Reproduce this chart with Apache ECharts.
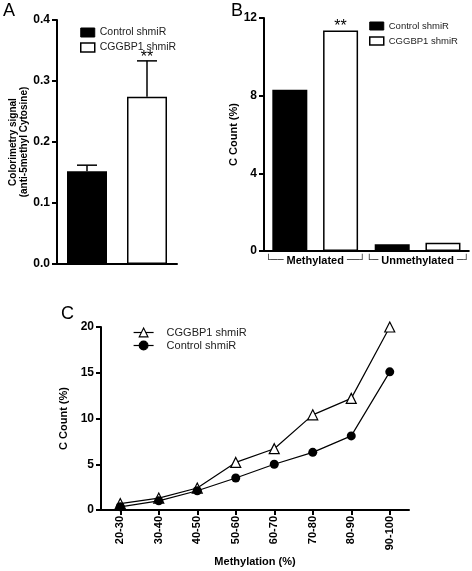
<!DOCTYPE html>
<html><head><meta charset="utf-8">
<script src="https://cdn.jsdelivr.net/npm/echarts@6/dist/echarts.min.js"></script>
<style>html,body{margin:0;padding:0;background:#fff}#c{width:472px;height:571px}</style>
</head><body><div id="c"></div>
<script>
// ---- Panel A ----
const aCategories = ['Control shmiR', 'CGGBP1 shmiR'];
const aMeans = [0.152, 0.274];
const aErrors = [0.010, 0.059];
const aSignif = ['', '**'];
// ---- Panel B ----
const bCategories = ['Methylated', 'Unmethylated'];
const bControl = [8.3, 0.35];
const bCGGBP1 = [11.35, 0.42];
const bSignifCGGBP1 = ['**', ''];
// ---- Panel C ----
const cCategories = ['20-30', '30-40', '40-50', '50-60', '60-70', '70-80', '80-90', '90-100'];
const cCGGBP1 = [0.7, 1.3, 2.4, 5.2, 6.7, 10.4, 12.2, 20.0];
const cControl = [0.35, 1.0, 2.1, 3.5, 5.0, 6.3, 8.1, 15.1];

const FONT = "'Liberation Sans', Arial, sans-serif";
const INK = '#000';
const lbl = (size, weight) => ({ fontFamily: FONT, fontSize: size, fontWeight: weight || 'bold', color: INK });
const axisLine = { show: true, lineStyle: { color: INK, width: 2 } };
const yTick = { show: true, length: 5, lineStyle: { color: INK, width: 2 } };
const letter = { fontFamily: FONT, fontSize: 18, fontWeight: 'normal', color: INK };

const chart = echarts.init(document.getElementById('c'), null, { renderer: 'canvas' });

const option = {
  backgroundColor: '#fff',
  animation: false,
  title: [
    { text: 'A', left: 3, top: 2, padding: 0, textStyle: letter },
    { text: 'B', left: 231, top: 2, padding: 0, textStyle: letter },
    { text: 'C', left: 61, top: 305, padding: 0, textStyle: letter }
  ],
  legend: [
    {
      orient: 'vertical', left: 80, top: 27, padding: 0, itemWidth: 14, itemHeight: 9, itemGap: 4,
      textStyle: { fontFamily: FONT, fontSize: 10.5, color: '#222' },
      selectedMode: false,
      data: [
        { name: 'Control shmiR', icon: 'rect', itemStyle: { color: '#000', borderColor: '#000', borderWidth: 1 } },
        { name: 'CGGBP1 shmiR', icon: 'rect', itemStyle: { color: '#fff', borderColor: '#000', borderWidth: 1.5 } }
      ]
    },
    {
      orient: 'vertical', left: 369, top: 21, padding: 0, itemWidth: 14, itemHeight: 8, itemGap: 5,
      textStyle: { fontFamily: FONT, fontSize: 9.5, color: '#222' },
      selectedMode: false,
      data: [
        { name: 'Control shmiR', icon: 'rect', itemStyle: { color: '#000', borderColor: '#000', borderWidth: 1 } },
        { name: 'CGGBP1 shmiR', icon: 'rect', itemStyle: { color: '#fff', borderColor: '#000', borderWidth: 1.5 } }
      ]
    },
    {
      orient: 'vertical', left: 133, top: 327, padding: 0, itemWidth: 20, itemHeight: 11, itemGap: 2,
      textStyle: { fontFamily: FONT, fontSize: 11, color: '#222', padding: [0, 0, 0, 8] },
      itemStyle: { borderWidth: 1.1 },
      lineStyle: { width: 1.2, color: INK },
      selectedMode: false,
      data: ['CGGBP1 shmiR', 'Control shmiR']
    }
  ],
  grid: [
    { left: 57, top: 20, width: 120, height: 244 },
    { left: 264, top: 18, width: 205, height: 233 },
    { left: 101, top: 327, width: 308, height: 183 }
  ],
  xAxis: [
    { gridIndex: 0, type: 'category', data: aCategories, axisLine: axisLine, axisTick: { show: false }, axisLabel: { show: false } },
    {
      gridIndex: 1, type: 'category', data: bCategories, axisLine: axisLine, axisTick: { show: false },
      axisLabel: {
        interval: 0, margin: 4,
        formatter: v => '{b|└' + (v.length > 10 ? '─' : '──') + '}{t| ' + v + ' }{b|' + (v.length > 10 ? '─' : '──') + '┘}',
        rich: {
          b: { fontFamily: 'DejaVu Sans', fontSize: 10, color: '#333' },
          t: { fontFamily: FONT, fontSize: 11, fontWeight: 'bold', color: INK }
        }
      }
    },
    {
      gridIndex: 2, type: 'category', data: cCategories, axisLine: axisLine,
      axisTick: { show: true, alignWithLabel: true, length: 5, lineStyle: { color: INK, width: 2 } },
      axisLabel: Object.assign({ rotate: 90, margin: 6, interval: 0 }, lbl(11)),
      name: 'Methylation (%)', nameLocation: 'middle', nameGap: 46, nameTextStyle: lbl(11)
    }
  ],
  yAxis: [
    {
      gridIndex: 0, type: 'value', min: 0, max: 0.4, interval: 0.1, splitLine: { show: false },
      axisLine: axisLine, axisTick: yTick,
      axisLabel: Object.assign({ margin: 7, formatter: v => v.toFixed(1) }, lbl(12)),
      name: 'Colorimetry signal\n(anti-5methyl Cytosine)', nameLocation: 'middle', nameGap: 25,
      nameTextStyle: Object.assign({ lineHeight: 11 }, lbl(10))
    },
    {
      gridIndex: 1, type: 'value', min: 0, max: 12, interval: 4, splitLine: { show: false },
      axisLine: axisLine, axisTick: yTick,
      axisLabel: Object.assign({ margin: 7 }, lbl(12)),
      name: 'C Count (%)', nameLocation: 'middle', nameGap: 20, nameTextStyle: lbl(11)
    },
    {
      gridIndex: 2, type: 'value', min: 0, max: 20, interval: 5, splitLine: { show: false },
      axisLine: axisLine, axisTick: yTick,
      axisLabel: Object.assign({ margin: 7 }, lbl(12)),
      name: 'C Count (%)', nameLocation: 'middle', nameGap: 26, nameTextStyle: lbl(11)
    }
  ],
  series: [
    {
      name: 'CGGBP1 shmiR', type: 'line', xAxisIndex: 2, yAxisIndex: 2, data: cCGGBP1,
      symbol: 'triangle', symbolSize: 10, showAllSymbol: true,
      lineStyle: { color: INK, width: 1.2 },
      itemStyle: { color: '#fff', borderColor: INK, borderWidth: 1.2 }, z: 3
    },
    {
      name: 'Control shmiR', type: 'line', xAxisIndex: 2, yAxisIndex: 2, data: cControl,
      symbol: 'circle', symbolSize: 9, showAllSymbol: true,
      lineStyle: { color: INK, width: 1.2 },
      itemStyle: { color: INK, borderColor: INK, borderWidth: 0 }, z: 4
    },
    {
      name: 'A means', type: 'bar', xAxisIndex: 0, yAxisIndex: 0, barWidth: 40,
      data: aMeans.map((v, i) => ({
        value: v,
        itemStyle: i === 0 ? { color: INK } : { color: '#fff', borderColor: INK, borderWidth: 1.5 }
      }))
    },
    {
      name: 'A error', type: 'custom', xAxisIndex: 0, yAxisIndex: 0, z: 5,
      data: aMeans.map((v, i) => [i, v, aErrors[i]]),
      renderItem: (params, api) => {
        const x = api.value(0), m = api.value(1), e = api.value(2);
        const p0 = api.coord([x, m]);
        const p1 = api.coord([x, m + e]);
        const st = { stroke: INK, lineWidth: 1.5 };
        return {
          type: 'group',
          children: [
            { type: 'line', shape: { x1: p0[0], y1: p0[1], x2: p1[0], y2: p1[1] }, style: st },
            { type: 'line', shape: { x1: p1[0] - 10, y1: p1[1], x2: p1[0] + 10, y2: p1[1] }, style: st },
            { type: 'text', style: { text: aSignif[params.dataIndex], x: p1[0], y: p1[1] + 5, align: 'center', verticalAlign: 'bottom', font: '16px ' + FONT, fill: INK } }
          ]
        };
      }
    },
    {
      name: 'Control shmiR', type: 'bar', xAxisIndex: 1, yAxisIndex: 1, data: bControl,
      barWidth: 35, barGap: '45%', itemStyle: { color: INK }
    },
    {
      name: 'CGGBP1 shmiR', type: 'bar', xAxisIndex: 1, yAxisIndex: 1, data: bCGGBP1,
      barWidth: 35, barGap: '45%', itemStyle: { color: '#fff', borderColor: INK, borderWidth: 1.5 },
      label: { show: true, position: 'top', distance: -4, formatter: p => bSignifCGGBP1[p.dataIndex], fontFamily: FONT, fontSize: 16, color: INK }
    }
  ]
};
chart.setOption(option);
</script>
</body></html>
